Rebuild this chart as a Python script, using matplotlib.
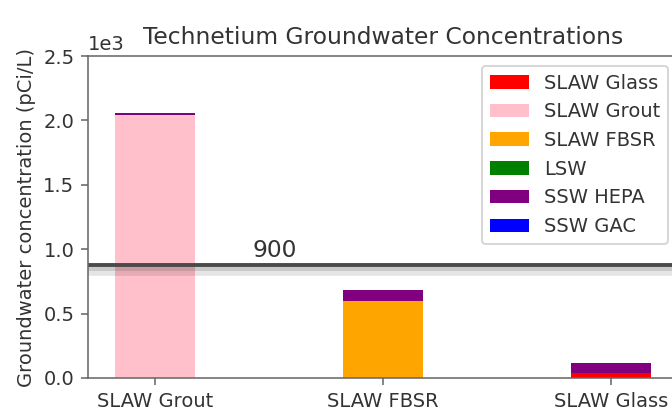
import numpy as np
import matplotlib
matplotlib.use("Agg")
import matplotlib.pyplot as plt
import matplotlib.patheffects as pe

# wasteforms on the x axis
categories = ["SLAW Grout", "SLAW FBSR", "SLAW Glass"]

# contributions (pCi/L) per source, stacked in this order
series_names = ["SLAW Glass", "SLAW Grout", "SLAW FBSR", "LSW", "SSW HEPA", "SSW GAC"]
slaw_glass = [0, 0, 35]
slaw_grout = [2045, 0, 0]
slaw_fbsr = [0, 600, 0]
lsw = [0, 0, 0]
ssw_hepa = [10, 80, 83]
ssw_gac = [0, 0, 0]
colors = ["red", "pink", "orange", "green", "purple", "blue"]

limit_value = 875
limit_label = "900"

plt.rcParams["text.color"] = "#333333"
plt.rcParams["axes.labelcolor"] = "#333333"
plt.rcParams["xtick.labelcolor"] = "#333333"
plt.rcParams["ytick.labelcolor"] = "#333333"
plt.rcParams["xtick.color"] = "#666666"
plt.rcParams["ytick.color"] = "#666666"
plt.rcParams["axes.edgecolor"] = "#666666"

s = 1.4
fig = plt.figure(figsize=(6.72 / s, 4.11 / s), dpi=100 * s)
ax = fig.add_axes([0.131, 0.0803, 0.878, 0.7834])

x = np.arange(len(categories))
bottom = np.zeros(len(categories))
for name, vals, c in zip(series_names,
                         [slaw_glass, slaw_grout, slaw_fbsr, lsw, ssw_hepa, ssw_gac],
                         colors):
    ax.bar(x, vals, width=0.35, bottom=bottom, color=c, label=name)
    bottom += np.array(vals)

ax.axhline(limit_value, color="#4a4a4a", lw=2,
           path_effects=[pe.SimpleLineShadow(offset=(0, -3), alpha=0.1, linewidth=5),
                         pe.SimpleLineShadow(offset=(0, -2), alpha=0.12),
                         pe.Normal()])
ax.text(0.43, 940, limit_label, fontsize=12)

ax.set_xticks(x)
ax.set_xticklabels(categories)
ax.set_ylim(0, 2500)
ax.ticklabel_format(axis="y", style="sci", scilimits=(0, 0))
ax.set_ylabel("Groundwater concentration (pCi/L)")
ax.set_title("Technetium Groundwater Concentrations")
ax.legend(loc="upper right")

fig.savefig("out.png")
